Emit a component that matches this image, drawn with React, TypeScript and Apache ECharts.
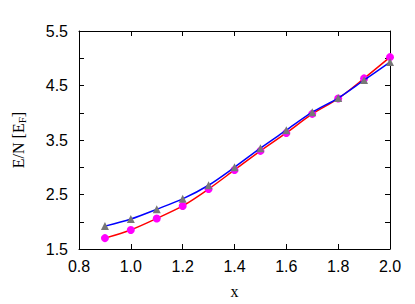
import React, { useEffect, useRef } from "react";
import * as echarts from "echarts";

const xValues = [0.9, 1.0, 1.1, 1.2, 1.3, 1.4, 1.5, 1.6, 1.7, 1.8, 1.9, 2.0];
const seriesA = [1.70, 1.85, 2.06, 2.29, 2.60, 2.95, 3.30, 3.63, 3.98, 4.26, 4.63, 5.02];
const seriesB = [1.92, 2.05, 2.23, 2.42, 2.67, 3.00, 3.35, 3.68, 4.01, 4.27, 4.60, 4.93];

const pair = (ys: number[]) => xValues.map((x, i) => [x, ys[i]]);

export default function App() {
  const ref = useRef<HTMLDivElement>(null);
  useEffect(() => {
    if (!ref.current) return;
    const chart = echarts.init(ref.current, null, { renderer: "svg" });
    const axisLine = { show: true, lineStyle: { color: "#000", width: 1 } };
    const labelStyle = { color: "#000", fontFamily: "Liberation Sans", fontSize: 16 };
    chart.setOption({
      animation: false,
      backgroundColor: "#fff",
      grid: { left: 79, right: 25, top: 31, bottom: 55, containLabel: false },
      xAxis: [
        {
          type: "value", min: 0.8, max: 2.0, interval: 0.2,
          axisLine, splitLine: { show: false },
          axisTick: { inside: true, length: 5, lineStyle: { color: "#000" } },
          axisLabel: { ...labelStyle, margin: 9, formatter: (v: number) => v.toFixed(1) },
          name: "x", nameLocation: "middle", nameGap: 34,
          nameTextStyle: { fontFamily: "Liberation Serif", fontSize: 16, color: "#000" },
        },
        {
          type: "value", position: "top", min: 0.8, max: 2.0, interval: 0.2,
          axisLine, splitLine: { show: false },
          axisTick: { inside: true, length: 5, lineStyle: { color: "#000" } },
          axisLabel: { show: false },
        },
      ],
      yAxis: [
        {
          type: "value", min: 1.5, max: 5.5, interval: 0.5,
          axisLine, splitLine: { show: false },
          axisTick: { inside: true, length: 5, lineStyle: { color: "#000" } },
          axisLabel: {
            ...labelStyle, margin: 11,
            formatter: (v: number) => (Math.abs((v % 1) - 0.5) < 1e-6 ? v.toFixed(1) : ""),
          },
          name: "E/N [E{sub|F}]", nameLocation: "middle", nameRotate: 90, nameGap: 52,
          nameTextStyle: {
            fontFamily: "Liberation Serif", fontSize: 16, color: "#000",
            rich: { sub: { fontFamily: "Liberation Serif", fontSize: 11, color: "#000", verticalAlign: "bottom", padding: [6, 0, 0, 0] } },
          },
        },
        {
          type: "value", position: "right", min: 1.5, max: 5.5, interval: 0.5,
          axisLine, splitLine: { show: false },
          axisTick: { inside: true, length: 5, lineStyle: { color: "#000" } },
          axisLabel: { show: false },
        },
      ],
      series: [
        {
          type: "line", data: pair(seriesA), smooth: 0.3,
          symbol: "circle", symbolSize: 8,
          lineStyle: { color: "#ff0000", width: 1.5 },
          itemStyle: { color: "#ff00ff" },
          z: 2,
        },
        {
          type: "line", data: pair(seriesB), smooth: 0.3,
          symbol: "triangle", symbolSize: 8,
          lineStyle: { color: "#0000ff", width: 1.5 },
          itemStyle: { color: "#777777" },
          z: 3,
        },
      ],
    });
    return () => chart.dispose();
  }, []);
  return <div ref={ref} style={{ position: "fixed", left: 0, top: 0, width: 415, height: 304 }} />;
}
